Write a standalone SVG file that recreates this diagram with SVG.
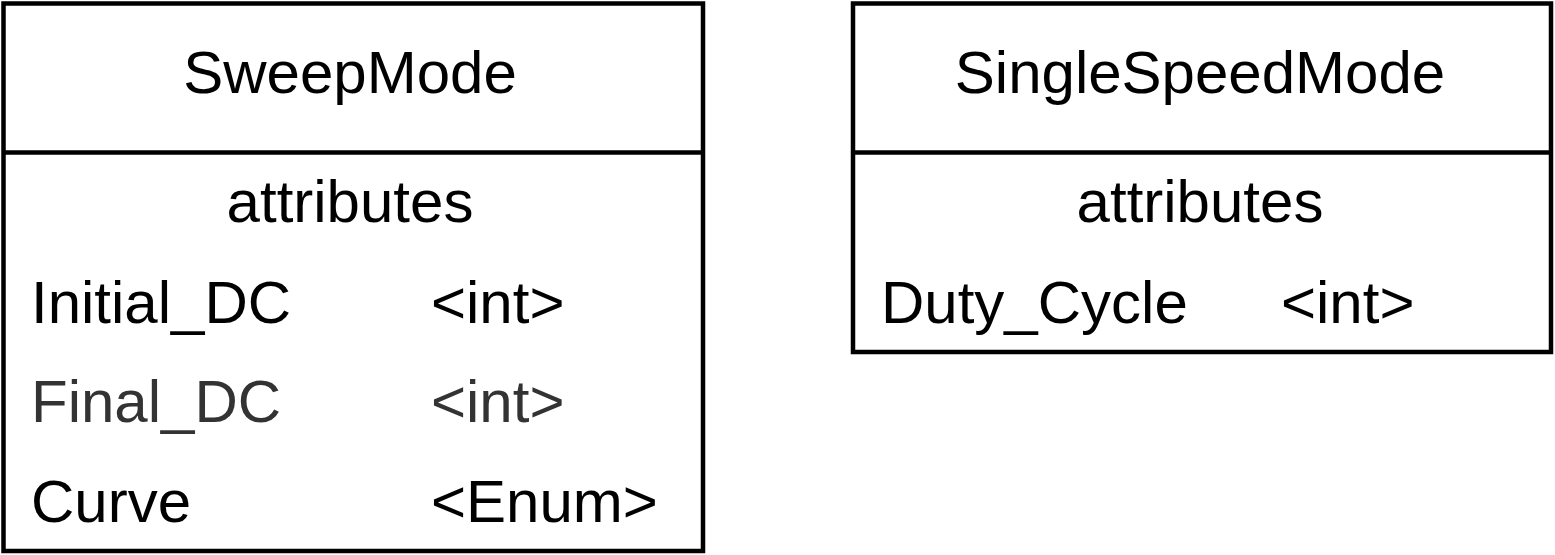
<svg xmlns="http://www.w3.org/2000/svg" width="1555" height="555" viewBox="0 0 1555 555">
<style>
.box{fill:#fff;stroke:#000;stroke-width:4.5}
.sep{stroke:#000;stroke-width:4.5}
text{font-family:"Liberation Sans",Arial,sans-serif;font-size:60px;fill:#000}
.c{text-anchor:middle}
.g{fill:#333}
</style>
<rect width="1555" height="555" fill="#fff"/>
<g id="SweepMode">
<rect class="box" x="3.5" y="3.5" width="699.5" height="547.5"/>
<line class="sep" x1="3.5" y1="152.5" x2="703" y2="152.5"/>
<text class="c" x="350" y="93">SweepMode</text>
<text class="c" x="350" y="222">attributes</text>
<text x="31" y="323">Initial_DC</text>
<text x="431" y="323">&lt;int&gt;</text>
<text class="g" x="31" y="422">Final_DC</text>
<text class="g" x="431" y="422">&lt;int&gt;</text>
<text x="31" y="522">Curve</text>
<text x="431" y="522">&lt;Enum&gt;</text>
</g>
<g id="SingleSpeedMode">
<rect class="box" x="853" y="3.5" width="698" height="348.5"/>
<line class="sep" x1="853" y1="152.5" x2="1551" y2="152.5"/>
<text class="c" x="1200" y="93">SingleSpeedMode</text>
<text class="c" x="1200" y="222">attributes</text>
<text x="881" y="323">Duty_Cycle</text>
<text x="1281" y="323">&lt;int&gt;</text>
</g>
<g id="connectors"/>
</svg>
